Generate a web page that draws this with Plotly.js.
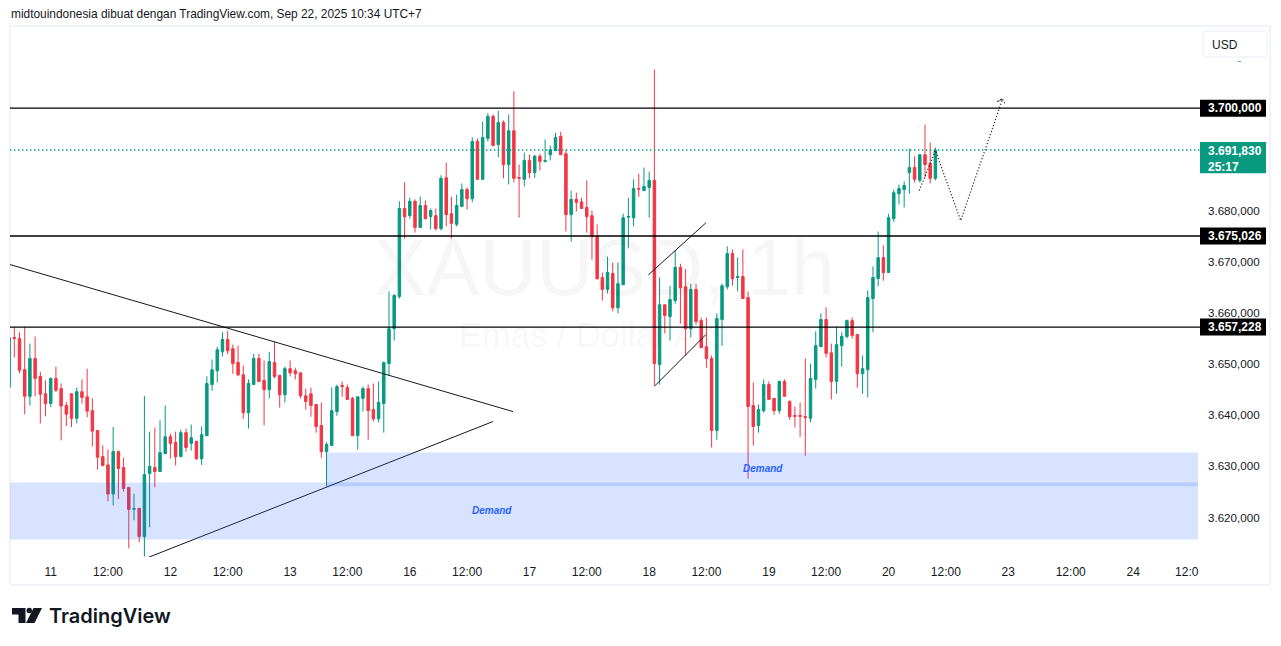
<!DOCTYPE html>
<html><head><meta charset="utf-8">
<script src="https://cdn.plot.ly/plotly-3.0.1.min.js"></script>
<style>html,body{margin:0;padding:0;background:#fff;overflow:hidden}#c{width:1281px;height:646px}</style>
</head><body><div id="c"></div>
<script>
const openP=[3645.47,3655.2,3655.0,3648.9,3643.7,3651.1,3647.6,3644.2,3642.3,3647.2,3645.2,3641.9,3644.2,3639.4,3644.6,3643.6,3640.9,3637.0,3631.9,3630.3,3624.6,3632.9,3629.8,3625.9,3621.63,3621.8,3616.3,3628.6,3629.8,3629.0,3632.5,3635.8,3634.7,3631.9,3636.6,3634.5,3634.9,3631.5,3636.0,3646.0,3648.7,3652.4,3654.8,3653.0,3650.3,3647.9,3640.5,3646.0,3651.1,3646.8,3645.0,3650.3,3647.8,3644.0,3649.1,3648.7,3648.3,3643.8,3644.2,3642.1,3638.0,3632.9,3634.1,3640.7,3645.8,3645.4,3643.3,3636.0,3643.3,3645.2,3641.1,3639.3,3642.3,3650.1,3656.9,
3663.2,3680.4,3679.0,3681.8,3676.7,3681.0,3678.8,3679.0,3676.5,3686.4,3679.4,3677.3,3680.8,3684.1,3682.3,3693.5,3686.1,3694.1,3698.4,3692.9,3697.2,3689.0,3695.6,3686.45,3686.1,3689.8,3687.4,3690.6,3689.6,3690.9,3691.7,3694.5,3691.1,3679.2,3682.2,
3681.7,3680.6,3679.0,3674.9,3666.9,3664.6,3667.7,3661.0,3665.5,3678.7,3678.6,3684.3,3683.9,3684.5,3685.9,3649.9,3661.6,3659.3,3662.4,3668.9,3665.1,3656.9,3664.6,3658.5,3653.4,3651.1,3637.0,3658.7,3665.1,3671.6,3666.9,3667.1,3663.0,
3641.9,3638.0,3640.9,3646.0,3643.3,3640.9,3646.6,3642.7,3639.95,3639.95,3639.75,3639.4,3647.0,3653.4,3658.7,3652.2,3646.6,3653.6,3655.4,3658.5,3655.8,3648.1,3648.9,3662.8,3666.7,3670.8,
3667.9,3678.4,3683.3,3684.1,3687.4,3688.4,3685.9,3690.9,3689.2,3686.3];
const highP=[3655.18,3657.2,3656.2,3657.3,3654.0,3655.4,3648.5,3646.8,3647.4,3649.5,3646.2,3642.6,3644.2,3645.4,3647.0,3649.1,3643.3,3637.0,3634.1,3633.3,3637.7,3633.1,3631.7,3625.9,3624.7,3621.9,3643.8,3636.8,3637.6,3639.0,3641.9,3636.4,3636.8,3637.2,3637.4,3638.2,3635.0,3637.8,3647.6,3650.9,3653.4,3656.2,3656.5,3653.8,3653.6,3649.7,3647.0,3652.0,3652.0,3650.7,3652.4,3654.4,3647.9,3649.5,3650.7,3649.3,3648.3,3645.2,3645.4,3642.1,3642.5,3634.7,3645.4,3646.0,3646.6,3646.0,3643.6,3643.6,3645.6,3646.0,3646.2,3646.6,3650.5,3664.2,3663.7,
3681.8,3685.5,3682.5,3682.2,3682.7,3682.0,3680.4,3680.4,3686.9,3689.4,3682.7,3683.1,3685.3,3684.5,3694.3,3694.1,3697.4,3699.0,3698.8,3699.5,3697.6,3698.8,3703.3,3689.0,3691.3,3690.9,3690.9,3691.1,3693.9,3692.7,3695.2,3695.4,3691.9,3683.9,3683.5,
3682.5,3685.9,3680.0,3677.3,3667.9,3671.0,3669.8,3669.8,3679.4,3682.5,3686.1,3687.2,3688.4,3687.6,3707.55,3666.9,3661.6,3665.3,3672.2,3669.6,3668.6,3665.7,3665.7,3659.1,3659.1,3651.7,3659.9,3665.7,3673.0,3672.4,3670.8,3672.4,3664.2,
3646.4,3642.1,3647.0,3646.6,3643.3,3646.8,3647.0,3642.9,3641.7,3642.5,3651.1,3650.1,3656.4,3659.9,3661.1,3654.0,3657.3,3656.2,3658.7,3659.1,3655.8,3651.7,3664.4,3669.1,3675.9,3673.2,
3679.4,3684.1,3685.1,3685.7,3692.1,3690.6,3691.1,3696.8,3693.3,3692.3];
const lowP=[3645.47,3651.3,3648.2,3640.2,3641.9,3643.7,3638.4,3639.8,3641.6,3644.5,3635.1,3637.9,3637.7,3638.4,3642.3,3639.6,3633.9,3629.4,3630.0,3623.2,3622.4,3623.6,3625.1,3614.0,3619.5,3615.2,3612.4,3618.1,3625.9,3629.0,3632.5,3631.5,3630.2,3631.9,3632.9,3633.1,3631.3,3630.3,3636.0,3644.8,3646.4,3651.5,3651.9,3648.1,3647.6,3639.3,3637.4,3646.0,3646.6,3638.0,3643.3,3647.2,3641.5,3642.5,3647.6,3647.0,3643.3,3641.1,3639.7,3636.6,3631.7,3626.1,3634.1,3639.9,3643.6,3643.1,3636.0,3633.3,3640.7,3635.2,3638.8,3638.6,3636.6,3647.8,3654.6,
3662.8,3674.5,3678.4,3675.7,3676.7,3678.4,3676.3,3676.1,3676.1,3676.9,3674.5,3676.9,3680.8,3680.2,3681.6,3686.1,3686.1,3693.5,3692.7,3690.4,3686.3,3685.1,3685.5,3678.6,3684.7,3686.3,3686.4,3687.8,3689.4,3689.8,3691.7,3690.9,3675.9,3673.9,3679.8,
3680.4,3675.7,3670.4,3666.5,3662.4,3663.8,3660.3,3659.9,3665.5,3672.6,3676.9,3682.7,3683.9,3678.6,3645.8,3646.0,3656.0,3654.6,3661.8,3657.9,3651.7,3655.2,3657.7,3653.2,3649.3,3633.7,3635.2,3653.6,3664.6,3665.3,3664.2,3662.8,3627.6,
3634.1,3636.6,3640.5,3643.1,3640.1,3640.3,3643.7,3639.1,3637.6,3635.8,3632.1,3638.6,3645.2,3653.4,3651.3,3643.1,3644.2,3649.5,3655.0,3655.0,3645.4,3644.2,3643.5,3656.2,3665.2,3666.3,
3667.9,3677.8,3681.2,3680.6,3683.3,3685.5,3685.5,3686.4,3685.3,3685.9];
const closeP=[3655.18,3655.0,3648.8,3643.7,3651.1,3647.2,3644.1,3642.3,3647.2,3644.9,3641.8,3640.2,3639.4,3644.6,3643.5,3640.8,3636.9,3631.8,3630.2,3624.6,3632.9,3629.6,3625.7,3621.6,3621.76,3616.3,3628.4,3630.0,3629.0,3632.7,3635.8,3634.5,3631.9,3636.6,3633.7,3635.6,3631.5,3636.2,3646.2,3648.9,3652.8,3654.8,3652.6,3650.1,3647.9,3640.5,3646.2,3651.1,3646.6,3645.0,3650.5,3647.6,3644.0,3649.1,3648.3,3648.1,3643.8,3642.7,3641.9,3637.8,3632.9,3634.3,3640.9,3645.6,3645.6,3643.1,3636.0,3643.6,3645.2,3640.9,3639.3,3642.5,3650.3,3656.9,3663.4,
3680.4,3678.8,3681.8,3676.7,3681.0,3678.4,3680.0,3676.5,3686.3,3679.2,3677.5,3681.0,3684.1,3682.3,3693.5,3686.1,3694.3,3698.4,3692.7,3697.2,3689.0,3695.6,3686.3,3686.3,3689.8,3687.4,3690.6,3689.6,3689.77,3691.9,3694.3,3690.9,3679.2,3682.2,3681.6,
3680.4,3678.8,3674.9,3666.7,3664.6,3667.9,3661.0,3665.7,3678.6,3678.85,3684.3,3684.2,3684.7,3685.9,3650.1,3661.6,3659.5,3662.6,3668.9,3664.9,3656.9,3664.6,3658.3,3653.2,3651.1,3637.0,3658.9,3665.3,3671.6,3666.7,3667.1,3662.8,3641.7,
3637.8,3641.1,3646.0,3643.1,3640.9,3646.6,3643.7,3639.7,3639.8,3639.8,3639.55,3647.2,3653.6,3658.7,3652.1,3646.6,3653.8,3655.4,3658.5,3655.6,3648.1,3649.1,3663.0,3666.9,3670.8,3667.9,
3678.6,3683.5,3684.3,3684.9,3688.4,3686.1,3690.9,3689.0,3686.3,3691.83];

const xTickVals=[7,18,30,41,53,64,76,87,99,110,122,133,145,156,168,179,191,203,215,225.3];
const xTickText=['11','12:00','12','12:00','13','12:00','16','12:00','17','12:00','18','12:00','19','12:00','20','12:00','23','12:00','24','12:0'];
const yTickVals=[3620,3630,3640,3650,3660,3670,3680];

const levelPrices=[3700,3675.026,3657.228];
const levelLabels=['3.700,000','3.675,026','3.657,228'];
const lastPrice=3691.83;
const lastPriceLabel='3.691,830<br>25:17';

const demandLowX=[-1,227.5];   const demandLowY=[3615.7,3626.84];
const demandHighX=[60,227.5];  const demandHighY=[3626.15,3632.7];

const trendDownX=[-0.83,95.83];   const trendDownY=[3669.45,3640.72];
const trendUpX=[25.44,91.98];     const trendUpY=[3612.1,3638.77];
const channelTopX=[121.84,132.9]; const channelTopY=[3667.43,3677.6];
const channelBotX=[123,132.9];    const channelBotY=[3645.66,3655.77];
const pathX=[173.9,177,181.86,189.9,188.8,189.9,190.5];
const pathY=[3683.9,3691.73,3678.05,3701.8,3701.3,3701.8,3700.6];

const UP='#089981', DOWN='#F23645', INK='#131722';
const bars=openP.map((_,i)=>i-1);

// page geometry of the chart pane
const L=10,R=1198,T=27,B=557;
const px=v=>(v-L)/(R-L), py=v=>(B-v)/(B-T);
const chrome=(x0,y0,x1,y1,extra)=>Object.assign({type:'rect',xref:'paper',yref:'paper',x0:px(x0),x1:px(x1),y0:py(y0),y1:py(y1),layer:'above'},extra);
const poly=(pts,fill)=>({type:'path',xref:'paper',yref:'paper',layer:'above',fillcolor:fill,line:{width:0},
  path:pts.map((p,i)=>(i?'L':'M')+px(p[0])+','+py(p[1])).join(' ')+' Z'});

const lineTrace=(x,y,dash,w,c)=>({type:'scatter',mode:'lines',x,y,hoverinfo:'skip',showlegend:false,cliponaxis:true,
  line:{color:c||INK,width:w||1,dash:dash||'solid'}});

const traces=[
 {type:'candlestick',x:bars,open:openP,high:highP,low:lowP,close:closeP,hoverinfo:'skip',showlegend:false,whiskerwidth:0,
  increasing:{line:{color:UP,width:1},fillcolor:UP},decreasing:{line:{color:DOWN,width:1},fillcolor:DOWN}},
 lineTrace(trendDownX,trendDownY),lineTrace(trendUpX,trendUpY),
 lineTrace(channelTopX,channelTopY),lineTrace(channelBotX,channelBotY),
 lineTrace(pathX,pathY,'1.2px,2px',1.1)
];

const shapes=[
 {type:'rect',xref:'x',yref:'y',x0:demandLowX[0],x1:demandLowX[1],y0:demandLowY[0],y1:demandLowY[1],fillcolor:'rgba(41,98,255,0.18)',line:{width:0},layer:'above'},
 {type:'rect',xref:'x',yref:'y',x0:demandHighX[0],x1:demandHighX[1],y0:demandHighY[0],y1:demandHighY[1],fillcolor:'rgba(41,98,255,0.18)',line:{width:0},layer:'above'},
 {type:'line',xref:'paper',yref:'y',x0:0,x1:px(1200),y0:lastPrice,y1:lastPrice,line:{color:'#089981',width:1.4,dash:'1.4px,2.6px'},layer:'above'},
 ...levelPrices.map(p=>({type:'line',xref:'paper',yref:'y',x0:0,x1:px(1200),y0:p,y1:p,line:{color:'#000',width:1.3},layer:'above'})),
 // pane border
 chrome(10,26,1270,585,{line:{color:'#f0f3fa',width:2},fillcolor:'rgba(0,0,0,0)',layer:'below'}),
 // label boxes
 ...levelPrices.map(p=>({type:'rect',xref:'paper',yref:'y',x0:px(1200),x1:px(1266),y0:p-8.5*0.19543,y1:p+8.5*0.19543,fillcolor:'#000',line:{width:0},layer:'above'})),
 {type:'rect',xref:'paper',yref:'y',x0:px(1200),x1:px(1266),y0:lastPrice-23.2*0.19543,y1:lastPrice+8*0.19543,fillcolor:UP,line:{width:0},layer:'above'},
 // currency button
 {type:'path',xref:'paper',yref:'paper',layer:'above',fillcolor:'#fff',line:{color:'#f0f3fa',width:1.5},
  path:`M${px(1207)},${py(31)} L${px(1263)},${py(31)} Q${px(1267)},${py(31)} ${px(1267)},${py(35)} L${px(1267)},${py(53)} Q${px(1267)},${py(57)} ${px(1263)},${py(57)} L${px(1207)},${py(57)} Q${px(1203)},${py(57)} ${px(1203)},${py(53)} L${px(1203)},${py(35)} Q${px(1203)},${py(31)} ${px(1207)},${py(31)} Z`},
 {type:'line',xref:'paper',yref:'paper',x0:px(1238),x1:px(1241),y0:py(61.5),y1:py(61.5),line:{color:'#9598a1',width:1},layer:'above'},
 // TradingView logo
 poly([[12,608],[25.5,608],[25.5,623],[18.5,623],[18.5,614.5],[12,614.5]],'#131722'),
 poly([[33.5,608],[42,608],[34.5,623],[26,623]],'#131722'),
 {type:'circle',xref:'paper',yref:'paper',layer:'above',x0:px(26.5),x1:px(32),y0:py(607.8),y1:py(613.3),fillcolor:'#131722',line:{width:0}}
];

const FF='Liberation Sans, Arial, sans-serif';
const ann=(text,x,y,size,color,extra)=>Object.assign({text,x,y,showarrow:false,font:{size,color,family:FF},xanchor:'center',yanchor:'middle'},extra);
const annotations=[
 ann('XAUUSD, 1h',px(604),py(267),79,'rgba(19,23,34,0.04)',{xref:'paper',yref:'paper'}),
 ann('Emas / Dollar A.S.',px(599),py(335),34.5,'rgba(19,23,34,0.04)',{xref:'paper',yref:'paper'}),
 ann('Demand',91.8,3621.4,10,'#2962ff',{xref:'x',yref:'y',font:{size:10,color:'#2962ff',family:FF,weight:700,style:'italic'}}),
 ann('Demand',143.9,3629.6,10,'#2962ff',{xref:'x',yref:'y',font:{size:10,color:'#2962ff',family:FF,weight:700,style:'italic'}}),
 ...levelPrices.map((p,i)=>ann(levelLabels[i],px(1206),p,12,'#fff',{xref:'paper',yref:'y',xanchor:'left',font:{size:12,color:'#fff',family:FF,weight:700}})),
 ann(lastPriceLabel,px(1206),lastPrice,12,'#fff',{xref:'paper',yref:'y',xanchor:'left',yanchor:'top',yshift:8,align:'left',font:{size:12,color:'#fff',family:FF,weight:700}}),
 ann('USD',px(1210),py(45),12,INK,{xref:'paper',yref:'paper',xanchor:'left'}),
 ann('TradingView',px(46.5),py(616),20,INK,{xref:'paper',yref:'paper',xanchor:'left',font:{size:20,color:INK,family:'Inter, Liberation Sans, sans-serif',weight:600}})
];

const layout={
 width:1281,height:646,margin:{l:L,r:1281-R,t:T,b:646-B,pad:0},
 paper_bgcolor:'#fff',plot_bgcolor:'#fff',showlegend:false,hovermode:false,dragmode:false,
 separators:',.',boxgap:0.32,
 title:{text:'midtouindonesia dibuat dengan TradingView.com, Sep 22, 2025 10:34 UTC+7',x:11/1281,xanchor:'left',xref:'container',y:1-14/646,yref:'container',yanchor:'middle',font:{size:11.9,color:INK,family:FF},pad:{l:0,t:0,b:0,r:0}},
 xaxis:{type:'linear',range:[-0.826,227.46],fixedrange:true,showgrid:false,zeroline:false,showline:false,ticks:'',tickmode:'array',tickvals:xTickVals,ticktext:xTickText,tickangle:0,
   tickfont:{size:12,color:INK,family:FF},ticklabelstandoff:6,rangeslider:{visible:false}},
 yaxis:{side:'right',range:[3612.3,3715.87],fixedrange:true,showgrid:false,zeroline:false,showline:false,ticks:'',tickmode:'array',tickvals:yTickVals,tickformat:',.3f',
   tickfont:{size:11.6,color:INK,family:FF},ticklabelstandoff:9},
 shapes,annotations
};
Plotly.newPlot('c',traces,layout,{displayModeBar:false,staticPlot:true,responsive:false});
</script></body></html>
